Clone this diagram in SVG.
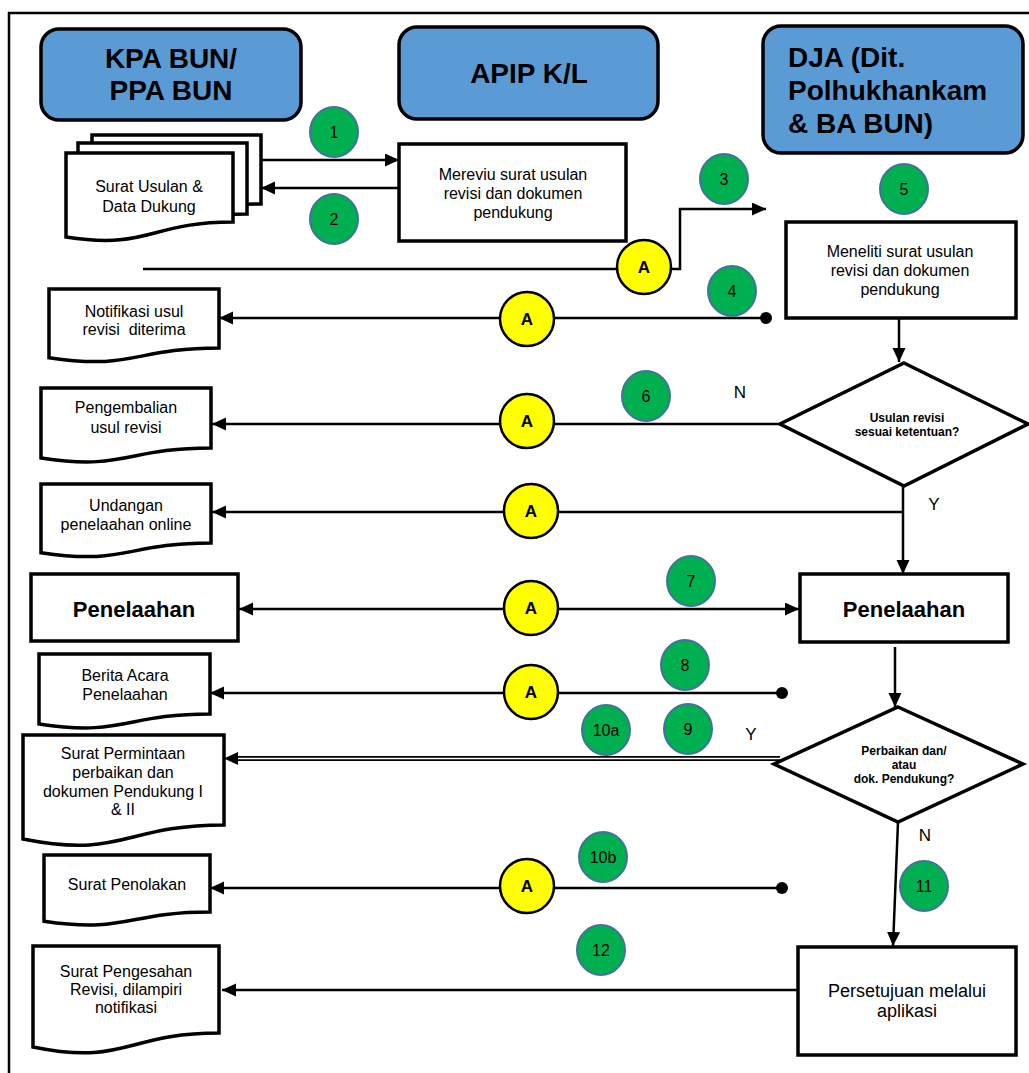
<svg xmlns="http://www.w3.org/2000/svg" width="1029" height="1073" viewBox="0 0 1029 1073">
  <defs>
    <marker id="arr" markerUnits="userSpaceOnUse" markerWidth="16" markerHeight="14" refX="14" refY="6.5" orient="auto-start-reverse">
      <path d="M0,0 L14,6.5 L0,13 Z" fill="#000"/>
    </marker>
    <style>
      .hdr { fill: #5B9BD5; stroke: #000; stroke-width: 3.5; }
      .hdrt { font-family: "Liberation Sans", Arial, sans-serif; font-weight: bold; font-size: 28px; fill: #000; }
      .box { fill: #fff; stroke: #000; stroke-width: 3.5; }
      .doc { fill: #fff; stroke: #000; stroke-width: 3.5; stroke-linejoin: miter; }
      .t { font-family: "Liberation Sans", Arial, sans-serif; font-size: 16px; fill: #000; text-anchor: middle; }
      .tb { font-family: "Liberation Sans", Arial, sans-serif; font-size: 22px; font-weight: bold; fill: #000; text-anchor: middle; }
      .td { font-family: "Liberation Sans", Arial, sans-serif; font-size: 12px; font-weight: bold; fill: #000; text-anchor: middle; }
      .yn { font-family: "Liberation Sans", Arial, sans-serif; font-size: 17px; fill: #000; text-anchor: middle; }
      .step { fill: #00B050; stroke: #41719C; stroke-width: 2; }
      .stept { font-family: "Liberation Sans", Arial, sans-serif; font-size: 16px; fill: #000; text-anchor: middle; }
      .conn { fill: #FFFF00; stroke: #000; stroke-width: 2.5; }
      .connt { font-family: "Liberation Sans", Arial, sans-serif; font-size: 17px; font-weight: bold; fill: #000; text-anchor: middle; }
      .ln { fill: none; stroke: #000; stroke-width: 2.5; }
    </style>
  </defs>

  <!-- page frame -->
  <path d="M9,1073 V13 H1029" fill="none" stroke="#000" stroke-width="2.5"/>

  <!-- lane headers -->
  <g id="hdr-kpa">
    <rect class="hdr" x="41" y="29" width="260" height="91" rx="18"/>
    <text class="hdrt" x="171" y="68" text-anchor="middle">KPA BUN/</text>
    <text class="hdrt" x="171" y="100" text-anchor="middle">PPA BUN</text>
  </g>
  <g id="hdr-apip">
    <rect class="hdr" x="399" y="27" width="259" height="92" rx="18"/>
    <text class="hdrt" x="529" y="83" text-anchor="middle">APIP K/L</text>
  </g>
  <g id="hdr-dja">
    <rect class="hdr" x="763" y="26" width="260" height="127" rx="18"/>
    <text class="hdrt" x="788" y="67">DJA (Dit.</text>
    <text class="hdrt" x="788" y="100">Polhukhankam</text>
    <text class="hdrt" x="788" y="133">&amp; BA BUN)</text>
  </g>

  <!-- connectors -->
  <g id="connectors">
    <path class="ln" d="M260,160 H399" marker-end="url(#arr)"/>
    <path class="ln" d="M399,188 H261" marker-end="url(#arr)"/>
    <path class="ln" d="M143,269 H680 V209 H766" marker-end="url(#arr)"/>
    <path class="ln" d="M766,318 H219" marker-end="url(#arr)"/>
    <circle cx="766" cy="318" r="6" fill="#000"/>
    <path class="ln" d="M899,318 V362" marker-end="url(#arr)"/>
    <path class="ln" d="M780,424 H212" marker-end="url(#arr)"/>
    <path class="ln" d="M903,486 V574" marker-end="url(#arr)"/>
    <path class="ln" d="M903,512 H212" marker-end="url(#arr)"/>
    <path class="ln" d="M239,609 H799" marker-start="url(#arr)" marker-end="url(#arr)"/>
    <path class="ln" d="M782,693 H210" marker-end="url(#arr)"/>
    <circle cx="782" cy="693" r="6" fill="#000"/>
    <path class="ln" d="M895,647 V707" marker-end="url(#arr)"/>
    <!-- double line to the correction request -->
    <path d="M780,758.5 H236" fill="none" stroke="#000" stroke-width="5"/>
    <path d="M780,758.5 H236" fill="none" stroke="#fff" stroke-width="1.6"/>
    <path d="M224,758.5 L238,752 L238,765 Z" fill="#000"/>
    <path class="ln" d="M898,822 L893,946" marker-end="url(#arr)"/>
    <path class="ln" d="M782,888 H210" marker-end="url(#arr)"/>
    <circle cx="782" cy="888" r="6" fill="#000"/>
    <path class="ln" d="M798,990 H222" marker-end="url(#arr)"/>
  </g>

  <!-- KPA BUN lane -->
  <g id="doc-usulan">
    <path class="doc" d="M92,135 H261 V204 C176.5,204 176.5,230 92,215 Z"/>
    <path class="doc" d="M78,143 H247 V214 C162.5,214 162.5,240 78,225 Z"/>
    <path class="doc" d="M66,153 H233 V222 C149.5,222 149.5,250 66,237 Z"/>
    <text class="t" x="149" y="192">Surat Usulan &amp;</text>
    <text class="t" x="149" y="212">Data Dukung</text>
  </g>
  <g id="doc-notifikasi">
    <path class="doc" d="M49,289 H219 V348 C134,348 134,370.5 49,357.7 Z"/>
    <text class="t" x="134" y="317">Notifikasi usul</text>
    <text class="t" x="134" y="335" style="white-space:pre">revisi  diterima</text>
  </g>
  <g id="doc-pengembalian">
    <path class="doc" d="M41,388 H211 V448 C126,448 126,470.8 41,458 Z"/>
    <text class="t" x="126" y="413">Pengembalian</text>
    <text class="t" x="126" y="433">usul revisi</text>
  </g>
  <g id="doc-undangan">
    <path class="doc" d="M41,484 H211 V543 C126,543 126,565.5 41,552.7 Z"/>
    <text class="t" x="126" y="511">Undangan</text>
    <text class="t" x="126" y="530">penelaahan online</text>
  </g>
  <g id="box-penelaahan-kpa">
    <rect class="box" x="31" y="574" width="207" height="67"/>
    <text class="tb" x="134" y="617">Penelaahan</text>
  </g>
  <g id="doc-berita">
    <path class="doc" d="M39,654 H210 V714 C124.5,714 124.5,736.8 39,724 Z"/>
    <text class="t" x="125" y="681">Berita Acara</text>
    <text class="t" x="125" y="700">Penelaahan</text>
  </g>
  <g id="doc-permintaan">
    <path class="doc" d="M23,735 H224 V825 C123.5,825 123.5,859 23,839 Z"/>
    <text class="t" x="123" y="759">Surat Permintaan</text>
    <text class="t" x="123" y="778">perbaikan dan</text>
    <text class="t" x="123" y="797">dokumen Pendukung I</text>
    <text class="t" x="123" y="815">&amp; II</text>
  </g>
  <g id="doc-penolakan">
    <path class="doc" d="M44,855 H210 V912 C127,912 127,933.6 44,921.3 Z"/>
    <text class="t" x="127" y="890">Surat Penolakan</text>
  </g>
  <g id="doc-pengesahan">
    <path class="doc" d="M33,946 H219 V1033 C126,1033 126,1066 33,1047 Z"/>
    <text class="t" x="126" y="977">Surat Pengesahan</text>
    <text class="t" x="126" y="995">Revisi, dilampiri</text>
    <text class="t" x="126" y="1013">notifikasi</text>
  </g>

  <!-- APIP lane -->
  <g id="box-mereviu">
    <rect class="box" x="399" y="144" width="227" height="97"/>
    <text class="t" x="513" y="180">Mereviu surat usulan</text>
    <text class="t" x="513" y="199">revisi dan dokumen</text>
    <text class="t" x="513" y="218">pendukung</text>
  </g>

  <!-- DJA lane -->
  <g id="box-meneliti">
    <rect class="box" x="786" y="222" width="230" height="96"/>
    <text class="t" x="900" y="257">Meneliti surat usulan</text>
    <text class="t" x="900" y="276">revisi dan dokumen</text>
    <text class="t" x="900" y="295">pendukung</text>
  </g>
  <g id="dec-ketentuan">
    <path class="box" d="M904,363 L1028,424 L904,486 L780,424 Z"/>
    <text class="td" x="907" y="422">Usulan revisi</text>
    <text class="td" x="907" y="436">sesuai ketentuan?</text>
  </g>
  <g id="box-penelaahan-dja">
    <rect class="box" x="800" y="574" width="208" height="68"/>
    <text class="tb" x="904" y="617">Penelaahan</text>
  </g>
  <g id="dec-perbaikan">
    <path class="box" d="M898,707 L1023,764 L898,822 L774,764 Z"/>
    <text class="td" x="904" y="755">Perbaikan dan/</text>
    <text class="td" x="904" y="769">atau</text>
    <text class="td" x="904" y="783">dok. Pendukung?</text>
  </g>
  <g id="box-persetujuan">
    <rect class="box" x="798" y="947" width="218" height="108"/>
    <text class="t" x="907" y="997" style="font-size:18px">Persetujuan melalui</text>
    <text class="t" x="907" y="1017" style="font-size:18px">aplikasi</text>
  </g>

  <!-- branch labels -->
  <g id="labels">
    <text class="yn" x="740" y="398">N</text>
    <text class="yn" x="934" y="510">Y</text>
    <text class="yn" x="751" y="740">Y</text>
    <text class="yn" x="925" y="841">N</text>
  </g>

  <!-- off-page connectors -->
  <g id="conn-a">
    <circle class="conn" cx="644" cy="267" r="27"/><text class="connt" x="644" y="273">A</text>
    <circle class="conn" cx="527" cy="319" r="27"/><text class="connt" x="527" y="325">A</text>
    <circle class="conn" cx="527" cy="421" r="27"/><text class="connt" x="527" y="427">A</text>
    <circle class="conn" cx="531" cy="511" r="27"/><text class="connt" x="531" y="517">A</text>
    <circle class="conn" cx="531" cy="608" r="27"/><text class="connt" x="531" y="614">A</text>
    <circle class="conn" cx="531" cy="692" r="27"/><text class="connt" x="531" y="698">A</text>
    <circle class="conn" cx="527" cy="886" r="27"/><text class="connt" x="527" y="892">A</text>
  </g>

  <!-- step numbers -->
  <g id="steps">
    <ellipse class="step" cx="334" cy="132" rx="24" ry="25"/><text class="stept" x="334" y="138">1</text>
    <ellipse class="step" cx="334" cy="219" rx="24" ry="25"/><text class="stept" x="334" y="225">2</text>
    <ellipse class="step" cx="724" cy="179" rx="24" ry="25"/><text class="stept" x="724" y="185">3</text>
    <ellipse class="step" cx="732" cy="291" rx="24" ry="25"/><text class="stept" x="732" y="297">4</text>
    <ellipse class="step" cx="904" cy="189" rx="24" ry="25"/><text class="stept" x="904" y="195">5</text>
    <ellipse class="step" cx="646" cy="396" rx="24" ry="25"/><text class="stept" x="646" y="402">6</text>
    <ellipse class="step" cx="691" cy="581" rx="24" ry="25"/><text class="stept" x="691" y="587">7</text>
    <ellipse class="step" cx="685" cy="665" rx="24" ry="25"/><text class="stept" x="685" y="671">8</text>
    <ellipse class="step" cx="688" cy="729" rx="24" ry="25"/><text class="stept" x="688" y="735">9</text>
    <ellipse class="step" cx="606" cy="730" rx="24" ry="25"/><text class="stept" x="606" y="736">10a</text>
    <ellipse class="step" cx="603" cy="857" rx="24" ry="25"/><text class="stept" x="603" y="863">10b</text>
    <ellipse class="step" cx="924" cy="886" rx="24" ry="25"/><text class="stept" x="924" y="892">11</text>
    <ellipse class="step" cx="601" cy="950" rx="24" ry="25"/><text class="stept" x="601" y="956">12</text>
  </g>
</svg>
